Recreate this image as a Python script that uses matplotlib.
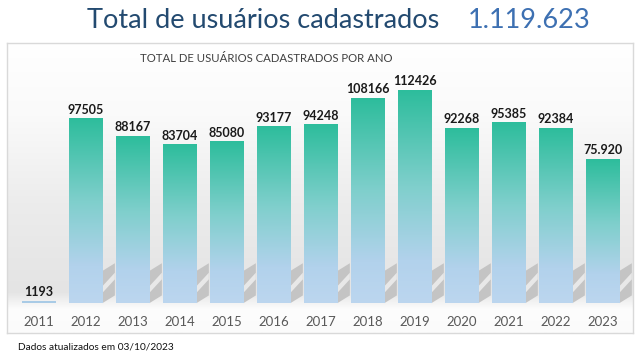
import matplotlib
matplotlib.use("Agg")
import matplotlib.pyplot as plt
import numpy as np
from matplotlib.colors import LinearSegmentedColormap
from matplotlib.patches import Polygon

years = ["2011", "2012", "2013", "2014", "2015", "2016", "2017",
         "2018", "2019", "2020", "2021", "2022", "2023"]
users = [1193, 97505, 88167, 83704, 85080, 93177, 94248,
         108166, 112426, 92268, 95385, 92384, 75920]
labels = ["1193", "97505", "88167", "83704", "85080", "93177", "94248",
          "108166", "112426", "92268", "95385", "92384", "75.920"]

title = "Total de usuários cadastrados"
total = "1.119.623"
subtitle = "TOTAL DE USUÁRIOS CADASTRADOS POR ANO"
footer = "Dados atualizados em 03/10/2023"

W, H = 643, 357
fig = plt.figure(figsize=(W / 100, H / 100), dpi=100)
fig.patch.set_facecolor("white")

# panel (pixels): left 7, right 633, top 43, bottom 333
ax = fig.add_axes([7 / W, (H - 333) / H, 626 / W, 290 / H])
ax.set_xlim(-0.68, 12.64)
ax.set_ylim(-15835, 137280)

# panel background gradient
bg = LinearSegmentedColormap.from_list(
    "bg", [(0, "#fbfbfb"), (0.08, "#fdfdfd"), (0.14, "#e4e4e4"),
           (0.45, "#ececec"), (0.75, "#fafafa"), (1, "#ffffff")])
ax.imshow(np.linspace(0, 1, 256).reshape(-1, 1), cmap=bg, origin="lower",
          extent=(0, 1, 0, 1), transform=ax.transAxes, aspect="auto", zorder=0)

barcm = LinearSegmentedColormap.from_list(
    "bar", [(0, "#bcd6ef"), (0.2, "#b2d2ec"), (0.55, "#7fcfcc"), (1, "#2dbd9c")])

x = np.arange(len(years))
w = 0.71
bars = ax.bar(x, users, width=w, color="none", zorder=2)
grad = np.linspace(0, 1, 256).reshape(-1, 1)
for i, b in enumerate(bars):
    x0, h = b.get_x(), b.get_height()
    if h < 5000:
        ax.bar(x[i], h, width=w, color="#a9cbe6", zorder=3)
        continue
    ax.imshow(grad, cmap=barcm, origin="lower", aspect="auto",
              extent=(x0, x0 + w, 0, h), zorder=3)
    # soft shadow to the right of each bar
    r = x0 + w
    ax.add_patch(Polygon([(r, 17000), (r + 0.26, 21000), (r + 0.26, 4000), (r, 0)],
                         closed=True, color="#c4c4c4", zorder=1, lw=0))
    ax.add_patch(Polygon([(r, 9000), (r + 0.26, 16000), (r + 0.26, 12500), (r, 5500)],
                         closed=True, color="#e8e8e8", zorder=1, lw=0))

for i, v in enumerate(users):
    ax.annotate(labels[i], (x[i], v), xytext=(0, 2), textcoords="offset points",
                ha="center", va="bottom", fontsize=9, fontweight="bold",
                family="Lato", color="#1a1a1a", zorder=4)

for i, y in enumerate(years):
    ax.text(x[i], 0.038, y, transform=ax.get_xaxis_transform(), ha="center",
            va="center", fontsize=9.5, family="Lato", color="#595959")

ax.set_xticks([])
ax.set_yticks([])
for s in ax.spines.values():
    s.set_color("#d9d9d9")
    s.set_linewidth(1)

fig.text(87 / W, 1 - 21 / H, title, fontsize=19.5, family="Lato",
         color="#234a70", ha="left", va="center")
fig.text(468 / W, 1 - 21 / H, total, fontsize=19.5, family="Lato",
         color="#3d70b2", ha="left", va="center")
fig.text(140 / W, 1 - 58 / H, subtitle, fontsize=8.2, family="Lato",
         color="#404040", ha="left", va="center")
fig.text(18 / W, 1 - 347 / H, footer, fontsize=7.3, family="Lato",
         color="#111111", ha="left", va="center")

fig.savefig("out.png", dpi=100)
